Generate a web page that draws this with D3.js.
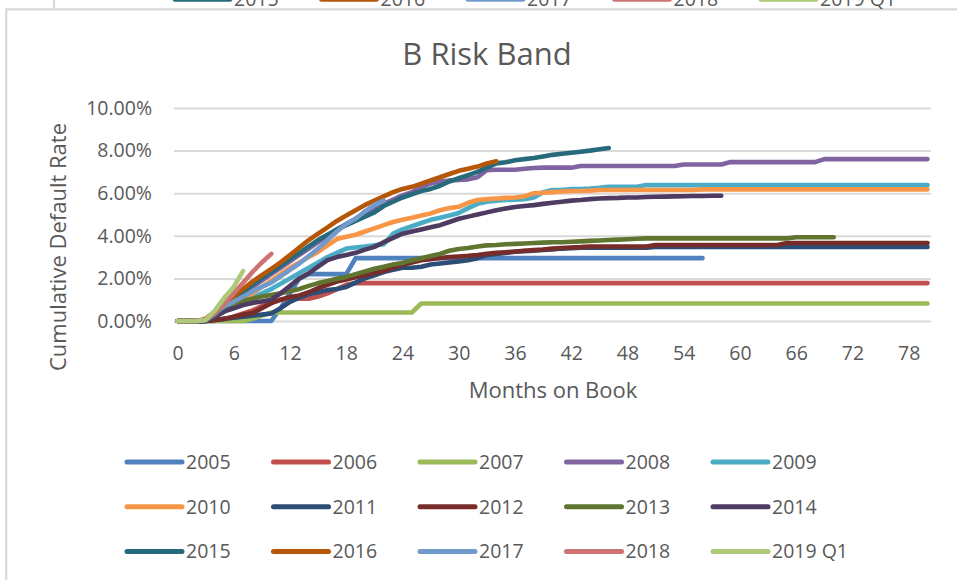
<!DOCTYPE html>
<html>
<head>
<meta charset="utf-8">
<script src="https://cdn.jsdelivr.net/npm/d3@7"></script>
<style>
  html, body { margin: 0; padding: 0; background: #fff; }
  svg { display: block; }
  text { font-family: 'Open Sans', 'Noto Sans', sans-serif; fill: #595959; }
</style>
</head>
<body>
<svg id="chart" width="957" height="580"></svg>
<script>
// Months-on-book axis and value ticks
const monthTicks = [0, 6, 12, 18, 24, 30, 36, 42, 48, 54, 60, 66, 72, 78];
const rateTicks = [0, 2, 4, 6, 8, 10];

// Vintage names (legend order = draw order)
const vintages = ["2005", "2006", "2007", "2008", "2009", "2010", "2011", "2012",
                  "2013", "2014", "2015", "2016", "2017", "2018", "2019 Q1"];

// Cumulative default rate (%) by month on book, month 0 first
const v2005 = [0,0,0,0,0,0,0,0,0,0,0, 0.6,1.3,2.0,2.2,2.2,2.2,2.2,2.2,
  2.95,2.95,2.95,2.95,2.95,2.95,2.95,2.95,2.95,2.95,2.95,2.95,2.95,2.95,2.95,2.95,2.95,2.95,2.95,
  2.95,2.95,2.95,2.95,2.95,2.95,2.95,2.95,2.95,2.95,2.95,2.95,2.95,2.95,2.95,2.95,2.95,2.95,2.95];
const v2006 = [0,0,0,0,0, 0.1,0.2,0.35,0.5,0.7,0.85,1.0,1.05,1.05,1.05,1.15,1.3,1.5,1.7,
  1.78,1.78,1.78,1.78,1.78,1.78,1.78,1.78,1.78,1.78,1.78,1.78,1.78,1.78,1.78,1.78,1.78,1.78,1.78,1.78,1.78,
  1.78,1.78,1.78,1.78,1.78,1.78,1.78,1.78,1.78,1.78,1.78,1.78,1.78,1.78,1.78,1.78,1.78,1.78,1.78,1.78,
  1.78,1.78,1.78,1.78,1.78,1.78,1.78,1.78,1.78,1.78,1.78,1.78,1.78,1.78,1.78,1.78,1.78,1.78,1.78,1.78,1.78];
const v2007 = [0,0,0,0,0,0,0,0, 0.1,0.25,0.4,
  0.4,0.4,0.4,0.4,0.4,0.4,0.4,0.4,0.4,0.4,0.4,0.4,0.4,0.4,0.4,
  0.82,0.82,0.82,0.82,0.82,0.82,0.82,0.82,0.82,0.82,0.82,0.82,0.82,0.82,0.82,0.82,0.82,0.82,0.82,0.82,
  0.82,0.82,0.82,0.82,0.82,0.82,0.82,0.82,0.82,0.82,0.82,0.82,0.82,0.82,0.82,0.82,0.82,0.82,0.82,0.82,
  0.82,0.82,0.82,0.82,0.82,0.82,0.82,0.82,0.82,0.82,0.82,0.82,0.82,0.82,0.82];
const v2008 = [0,0,0,0, 0.25,0.6,0.95,1.3,1.6,1.9,2.2,2.5,2.8,3.1,3.4,3.7,4.0,4.3,4.55,4.8,5.05,5.3,
  5.5,5.7,5.9,6.05,6.3,6.45,6.55,6.6,6.62,6.65,6.75,7.08,7.1,7.1,7.1,7.15,7.18,
  7.2,7.2,7.2,7.2,
  7.28,7.28,7.28,7.28,7.28,7.28,7.28,7.28,7.28,7.28,7.28,
  7.35,7.35,7.35,7.35,7.35,
  7.46,7.46,7.46,7.46,7.46,7.46,7.46,7.46,7.46,7.46,
  7.6,7.6,7.6,7.6,7.6,7.6,7.6,7.6,7.6,7.6,7.6,7.6];
const v2009 = [0,0,0,0, 0.2,0.45,0.7,0.9,1.1,1.3,1.5,1.75,2.0,2.25,2.5,2.75,3.0,3.2,3.4,3.45,3.5,3.55,
  3.6,4.1,4.3,4.45,4.6,4.75,4.85,4.95,5.07,5.3,5.5,5.6,5.65,5.68,5.7,5.72,5.8,6.05,6.15,6.15,6.2,6.2,
  6.22,6.25, 6.3,6.3,6.3,6.3,
  6.38,6.38,6.38,6.38,6.38,6.38,6.38,6.38,6.38,6.38,6.38,6.38,6.38,6.38,6.38,6.38,
  6.38,6.38,6.38,6.38,6.38,6.38,6.38,6.38,6.38,6.38,6.38,6.38,6.38,6.38,6.38];
const v2010 = [0,0,0,0, 0.25,0.5,0.75,1.0,1.3,1.6,1.9,2.2,2.5,2.75,3.0,3.25,3.55,3.85,3.95,4.05,4.2,
  4.35,4.5,4.65,4.75,4.85,4.95,5.05,5.2,5.3,5.36,5.55,5.68,5.72,5.75,5.78,5.8,5.85,6.0,6.02,6.05,
  6.08,6.1,6.1,6.12,
  6.15,6.15,6.15,6.15,6.15,6.15,6.15,6.15,6.15,6.15,6.15,
  6.18,6.18,6.18,6.18,6.18,6.18,6.18,6.18,6.18,6.18,6.18,6.18,6.18,6.18,6.18,6.18,6.18,6.18,6.18,6.18,
  6.18,6.18,6.18,6.18,6.18];
const v2011 = [0,0,0,0, 0.05,0.1,0.15,0.2,0.25,0.3,0.35,0.6,0.9,1.1,1.25,1.35,1.45,1.5,1.6,1.8,2.0,
  2.15,2.3,2.4,2.5,2.5,2.55,2.65,2.7,2.75,2.8,2.85,2.95,3.1,3.15,3.2,3.25,3.28,3.3,3.33,3.36,3.4,3.42,
  3.44,3.44,3.44,3.44,3.44,3.44,3.44,3.44,
  3.48,3.48,3.48,3.48,3.48,3.48,3.48,3.48,3.48,3.48,3.48,3.48,3.48,3.48,3.48,
  3.48,3.48,3.48,3.48,3.48,3.48,3.48,3.48,3.48,3.48,3.48,3.48,3.48,3.48,3.48];
const v2012 = [0,0,0,0, 0.05,0.1,0.2,0.3,0.37,0.6,0.84,1.0,1.13,1.2,1.35,1.55,1.7,1.85,1.95,2.05,2.15,
  2.25,2.35,2.5,2.65,2.75,2.85,2.9,2.96,3.0,3.03,3.06,3.1,3.15,3.2,3.23,3.26,3.3,3.33,3.36,3.4,3.43,
  3.45,3.47,
  3.5,3.5,3.5,3.5,3.5,3.5,3.5,
  3.57,3.57,3.57,3.57,3.57,3.57,3.57,3.57,3.57,3.57,3.57,3.57,3.57,3.57,
  3.66,3.66,3.66,3.66,3.66,3.66,3.66,3.66,3.66,3.66,3.66,3.66,3.66,3.66,3.66,3.66];
const v2013 = [0,0,0,0, 0.3,0.6,0.84,0.95,1.05,1.15,1.22,1.3,1.4,1.5,1.65,1.78,1.88,1.98,2.07,2.2,
  2.32,2.45,2.55,2.65,2.72,2.85,2.95,3.05,3.15,3.3,3.38,3.43,3.5,3.55,3.57,3.6,3.62,3.64,3.66,3.68,
  3.7,3.7,3.72,3.74,3.76,3.78,3.8,3.82,3.84,3.86,
  3.88,3.88,3.88,3.88,3.88,3.88,3.88,3.88,3.88,3.88,3.88,3.88,3.88,3.88,3.88,3.88,
  3.93,3.93,3.93,3.93,3.93];
const v2014 = [0,0,0,0, 0.2,0.45,0.6,0.75,0.85,0.92,1.0,1.3,1.65,2.0,2.24,2.55,2.86,3.0,3.1,3.2,3.35,
  3.48,3.7,3.9,4.1,4.2,4.3,4.4,4.5,4.65,4.8,4.9,5.0,5.1,5.2,5.28,5.35,5.4,5.44,5.5,5.55,5.6,5.65,
  5.68,5.72,5.75,5.77,5.78,5.8,5.8,5.82,5.83,5.84,5.85,5.86,5.87,5.87,5.88,5.88];
const v2015 = [0,0,0,0, 0.3,0.65,1.0,1.35,1.7,2.0,2.3,2.6,2.9,3.2,3.5,3.8,4.05,4.3,4.5,4.7,4.9,5.1,
  5.4,5.6,5.8,5.95,6.1,6.2,6.35,6.55,6.7,6.85,7.0,7.2,7.4,7.45,7.55,7.6,7.65,7.72,7.8,7.85,7.9,7.95,
  8.0,8.06,8.12];
const v2016 = [0,0,0, 0.1,0.45,0.8,1.15,1.5,1.85,2.15,2.45,2.75,3.1,3.45,3.8,4.1,4.4,4.7,4.95,5.2,
  5.45,5.65,5.85,6.05,6.2,6.3,6.45,6.6,6.75,6.9,7.05,7.15,7.25,7.4,7.5];
const v2017 = [0,0,0, 0.05,0.4,0.7,0.9,1.15,1.4,1.6,1.8,2.1,2.4,2.7,3.05,3.4,3.8,4.2,4.55,4.8,5.15,
  5.45,5.65];
const v2018 = [0,0,0, 0.05,0.35,0.8,1.3,1.8,2.3,2.75,3.15];
const v2019Q1 = [0,0,0, 0.05,0.5,1.1,1.6,2.35];

const seriesValues = [v2005, v2006, v2007, v2008, v2009, v2010, v2011, v2012,
                      v2013, v2014, v2015, v2016, v2017, v2018, v2019Q1];

// Series colours
const palette = ["#4F81BD", "#C0504D", "#9BBB59", "#8064A2", "#4BACC6", "#F79646",
                 "#2C4D75", "#772C2A", "#5F7530", "#4D3B62", "#276A7C", "#B65708",
                 "#729ACA", "#CD7371", "#AFC97A"];

const svg = d3.select("#chart");
const gridColor = "#d9d9d9";

// Chart frame (left and top edges visible)
svg.append("path")
  .attr("d", "M6.2,580V9.3H957")
  .attr("fill", "none").attr("stroke", gridColor).attr("stroke-width", 2.2);

// Edge of the chart above, with the tail of its legend
svg.append("line").attr("x1", 54).attr("x2", 54).attr("y1", 0).attr("y2", 8.5)
  .attr("stroke", gridColor).attr("stroke-width", 2.2);
const upperLegend = svg.append("g");
vintages.slice(10).forEach((name, i) => {
  const x0 = 175 + i * 146.5, yc = -0.8;
  upperLegend.append("line").attr("x1", x0).attr("x2", x0 + 55).attr("y1", yc).attr("y2", yc)
    .attr("stroke", palette[10 + i]).attr("stroke-width", 5).attr("stroke-linecap", "round");
  upperLegend.append("text").attr("x", x0 + 59).attr("y", yc).attr("dy", "0.36em")
    .attr("font-size", 19.5).text(name);
});

// Scales
const x = d3.scaleLinear().domain([0, 80]).range([177.5, 927.5]);
const y = d3.scaleLinear().domain([0, 10]).range([321, 108]);
const gridLeft = 174, gridRight = 931;

// Title
svg.append("text").attr("x", 487).attr("y", 65).attr("text-anchor", "middle")
  .attr("font-size", 31).text("B Risk Band");

// Value axis with gridlines
const yAxis = svg.append("g").attr("transform", `translate(${gridLeft},0)`)
  .call(d3.axisLeft(y).tickValues(rateTicks).tickFormat(d => d.toFixed(2) + "%")
    .tickSize(-(gridRight - gridLeft)).tickPadding(22));
yAxis.select(".domain").remove();
yAxis.selectAll(".tick line").attr("stroke", gridColor).attr("stroke-width", 2);
yAxis.selectAll(".tick text").attr("font-size", 19.5).attr("fill", "#595959")
  .attr("font-family", "'Open Sans', sans-serif");

// Month axis labels
const xAxis = svg.append("g").attr("transform", `translate(0,${y(0)})`)
  .call(d3.axisBottom(x).tickValues(monthTicks).tickSize(0).tickPadding(25));
xAxis.select(".domain").remove();
xAxis.selectAll(".tick text").attr("font-size", 19.5).attr("fill", "#595959")
  .attr("font-family", "'Open Sans', sans-serif");

// Axis titles
svg.append("text").attr("x", 553).attr("y", 398).attr("text-anchor", "middle")
  .attr("font-size", 22).text("Months on Book");
svg.append("text").attr("transform", "translate(66,247) rotate(-90)")
  .attr("text-anchor", "middle").attr("font-size", 22).text("Cumulative Default Rate");

// Vintage curves
const line = d3.line().x((d, i) => x(i)).y(d => y(d));
svg.append("g").selectAll("path").data(seriesValues).join("path")
  .attr("d", line)
  .attr("fill", "none")
  .attr("stroke", (d, i) => palette[i])
  .attr("stroke-width", 4.6)
  .attr("stroke-linecap", "round")
  .attr("stroke-linejoin", "round");

// Legend
const legend = svg.append("g");
vintages.forEach((name, i) => {
  const col = i % 5, row = Math.floor(i / 5);
  const x0 = 127 + col * 146.5, yc = 462 + row * 44.7;
  legend.append("line").attr("x1", x0).attr("x2", x0 + 55).attr("y1", yc).attr("y2", yc)
    .attr("stroke", palette[i]).attr("stroke-width", 5).attr("stroke-linecap", "round");
  legend.append("text").attr("x", x0 + 59).attr("y", yc).attr("dy", "0.36em")
    .attr("font-size", 19.5).text(name);
});
</script>
</body>
</html>
